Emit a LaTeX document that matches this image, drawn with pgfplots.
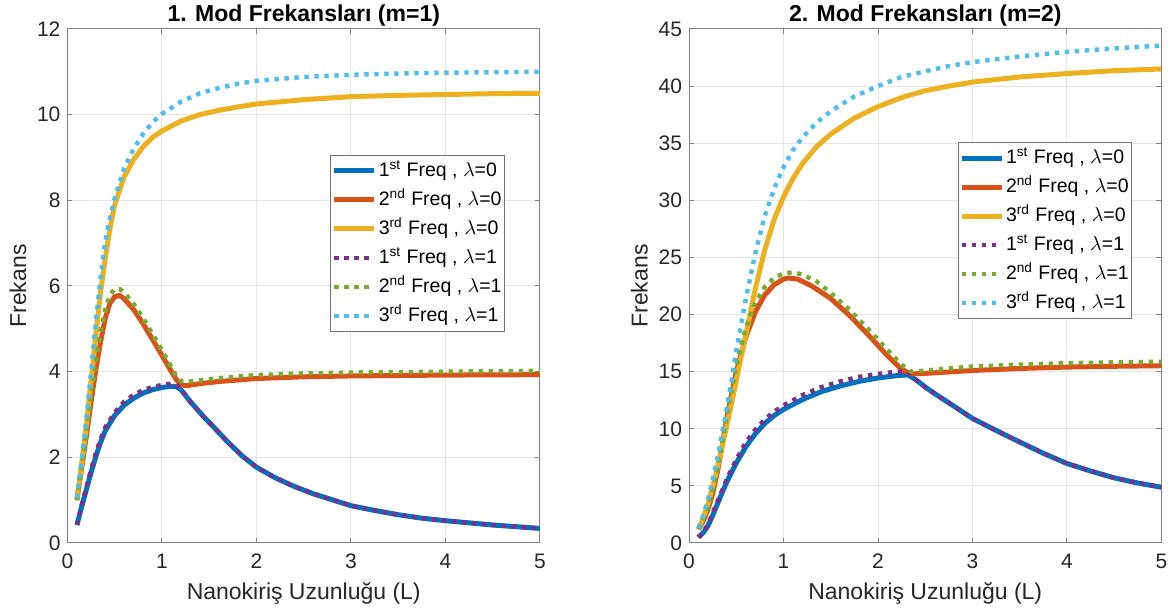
\documentclass[border=0pt]{standalone}
\usepackage{pgfplots}
\pgfplotsset{compat=1.18}
\usepackage{fontspec}
\setmainfont{Liberation Sans}

\definecolor{mblue}{HTML}{0072BD}
\definecolor{morange}{HTML}{D95319}
\definecolor{myellow}{HTML}{EDB120}
\definecolor{mpurple}{HTML}{7E2F8E}
\definecolor{mgreen}{HTML}{77AC30}
\definecolor{mcyan}{HTML}{4DBEEE}

\pgfplotsset{
  matlab/.style={
    scale only axis, width=236.25pt, height=257pt,
    xmin=0, xmax=5, xtick={0,1,2,3,4,5},
    grid=major, major grid style={line width=0.5pt, draw=black!10},
    axis line style={draw=black!50, line width=0.5pt},
    tick style={draw=black!50, line width=0.5pt},
    tick align=inside, major tick length=2.5pt,
    ticklabel style={font=\fontsize{10.5}{12}\selectfont, text=black!85},
    /pgf/number format/assume math mode=true,
    xticklabel shift=2pt,
    xlabel style={font=\fontsize{11.5}{13}\selectfont, text=black!85,
      at={(axis description cs:0.5,-0.099)}, anchor=center},
    ylabel style={font=\fontsize{11.5}{13}\selectfont, text=black!85,
      at={(axis description cs:-0.105,0.5)}, anchor=center},
    every axis title shift=0pt,
    title style={font=\bfseries\fontsize{11.5}{13}\selectfont,
      at={(axis description cs:0.5,1.027)}, anchor=center},
    legend cell align=left,
    legend style={draw=black!55, line width=0.5pt, fill=white,
      font=\fontsize{9.75}{11}\selectfont, inner xsep=0.5pt, inner ysep=1pt,
      nodes={inner sep=1pt, text height=8.5pt, text depth=3pt}, row sep=1pt},
    legend image code/.code={\draw[##1] (0pt,0pt) -- (20pt,0pt);},
  },
  sol/.style={line width=2.5pt, line join=round},
  dot/.style={line width=2.2pt, dash pattern=on 2.2pt off 2.8pt},
}

\begin{document}
\begin{tikzpicture}
\path[use as bounding box] (-33.75pt,-35.5pt) rectangle (552.75pt,271.5pt);

% ---- m = 1 ----
\begin{axis}[matlab, at={(0pt,0pt)}, anchor=south west,
    ymin=0, ymax=12, ytick={0,2,...,12},
    title={1. Mod Frekansları (m=1)},
    xlabel={Nanokiriş Uzunluğu (L)}, ylabel={Frekans},
    legend style={at={(axis description cs:0.926,0.755)}, anchor=north east}]

\addplot[sol, mblue] coordinates {
(0.1,0.42) (0.15,0.85) (0.2,1.25) (0.25,1.65) (0.3,2.02) (0.35,2.35) (0.4,2.62)
(0.5,2.98) (0.6,3.22) (0.7,3.38) (0.8,3.5) (0.9,3.58) (1.0,3.63) (1.1,3.66)
(1.15,3.65) (1.2,3.58) (1.3,3.3) (1.44,2.95) (1.55,2.7) (1.69,2.37) (1.85,2.03)
(2.0,1.77) (2.2,1.52) (2.4,1.32) (2.6,1.15) (2.8,1.01) (3.0,0.87) (3.25,0.76)
(3.5,0.66) (3.75,0.58) (4.0,0.52) (4.5,0.42) (5.0,0.34)};
\addlegendentry{1\textsuperscript{st} Freq , $\lambda$=0}

\addplot[sol, morange] coordinates {
(0.1,1.0) (0.15,1.75) (0.2,2.5) (0.25,3.3) (0.3,4.05) (0.35,4.7) (0.4,5.25)
(0.45,5.6) (0.5,5.75) (0.55,5.78) (0.6,5.7) (0.7,5.45) (0.8,5.12) (0.9,4.75)
(1.0,4.38) (1.1,4.0) (1.15,3.82) (1.2,3.7) (1.25,3.67) (1.4,3.72) (1.6,3.77)
(2.0,3.84) (2.5,3.88) (3.0,3.9) (4.0,3.92) (5.0,3.93)};
\addlegendentry{2\textsuperscript{nd} Freq , $\lambda$=0}

\addplot[sol, myellow] coordinates {
(0.1,1.0) (0.15,1.85) (0.2,2.75) (0.25,3.8) (0.3,4.85) (0.35,5.85) (0.4,6.65)
(0.45,7.35) (0.5,7.9) (0.6,8.55) (0.7,8.95) (0.8,9.25) (0.9,9.47) (1.0,9.62)
(1.2,9.85) (1.4,10.0) (1.6,10.1) (1.8,10.18) (2.0,10.25) (2.5,10.35) (3.0,10.42)
(3.5,10.45) (4.0,10.47) (4.5,10.49) (5.0,10.5)};
\addlegendentry{3\textsuperscript{rd} Freq , $\lambda$=0}

\addplot[dot, mpurple] coordinates {
(0.1,0.42) (0.15,0.88) (0.2,1.3) (0.25,1.72) (0.3,2.1) (0.35,2.42) (0.4,2.7)
(0.5,3.05) (0.6,3.3) (0.7,3.46) (0.8,3.57) (0.9,3.64) (1.0,3.69) (1.1,3.72)
(1.15,3.7) (1.2,3.6) (1.3,3.3) (1.44,2.95) (1.55,2.7) (1.69,2.37) (1.85,2.03)
(2.0,1.77) (2.2,1.52) (2.4,1.32) (2.6,1.15) (2.8,1.01) (3.0,0.87) (3.25,0.76)
(3.5,0.66) (3.75,0.58) (4.0,0.52) (4.5,0.42) (5.0,0.34)};
\addlegendentry{1\textsuperscript{st} Freq , $\lambda$=1}

\addplot[dot, mgreen] coordinates {
(0.1,1.0) (0.15,1.8) (0.2,2.6) (0.25,3.45) (0.3,4.25) (0.35,4.95) (0.4,5.45)
(0.45,5.8) (0.5,5.93) (0.55,5.93) (0.6,5.85) (0.7,5.58) (0.8,5.25) (0.9,4.88)
(1.0,4.5) (1.1,4.1) (1.15,3.9) (1.2,3.78) (1.25,3.76) (1.4,3.8) (1.6,3.85)
(2.0,3.92) (2.5,3.96) (3.0,3.98) (4.0,4.0) (5.0,4.02)};
\addlegendentry{2\textsuperscript{nd} Freq , $\lambda$=1}

\addplot[dot, mcyan] coordinates {
(0.1,1.05) (0.15,1.95) (0.2,2.9) (0.25,4.0) (0.3,5.15) (0.35,6.2) (0.4,7.05)
(0.45,7.6) (0.5,8.05) (0.6,8.75) (0.7,9.2) (0.8,9.55) (0.9,9.82) (1.0,10.02)
(1.2,10.3) (1.4,10.5) (1.6,10.62) (1.8,10.72) (2.0,10.79) (2.5,10.88) (3.0,10.93)
(3.5,10.96) (4.0,10.98) (4.5,10.99) (5.0,11.0)};
\addlegendentry{3\textsuperscript{rd} Freq , $\lambda$=1}
\end{axis}

% ---- m = 2 ----
\begin{axis}[matlab, at={(310.75pt,0pt)}, anchor=south west,
    ymin=0, ymax=45, ytick={0,5,...,45},
    title={2. Mod Frekansları (m=2)},
    xlabel={Nanokiriş Uzunluğu (L)}, ylabel={Frekans},
    legend style={at={(axis description cs:0.938,0.78)}, anchor=north east}]

\addplot[sol, mblue] coordinates {
(0.1,0.5) (0.15,0.9) (0.2,1.5) (0.25,2.4) (0.3,3.4) (0.35,4.4) (0.4,5.35)
(0.5,7.0) (0.6,8.4) (0.7,9.55) (0.8,10.45) (0.9,11.15) (1.0,11.7) (1.2,12.55)
(1.4,13.25) (1.6,13.75) (1.8,14.15) (2.0,14.45) (2.2,14.65) (2.32,14.72)
(2.4,14.3) (2.5,13.65) (2.65,12.8) (2.8,12.0) (3.0,10.9) (3.25,9.85) (3.5,8.84)
(3.75,7.85) (4.0,6.96) (4.25,6.3) (4.5,5.7) (4.75,5.25) (5.0,4.88)};
\addlegendentry{1\textsuperscript{st} Freq , $\lambda$=0}

\addplot[sol, morange] coordinates {
(0.1,1.2) (0.15,1.9) (0.2,2.9) (0.25,4.3) (0.3,6.2) (0.35,8.5) (0.4,10.9)
(0.45,13.0) (0.5,15.0) (0.6,18.0) (0.7,20.2) (0.8,21.7) (0.9,22.6) (1.0,23.1)
(1.05,23.2) (1.15,23.1) (1.3,22.5) (1.5,21.4) (1.7,19.9) (1.9,18.2) (2.1,16.4)
(2.25,15.2) (2.35,14.8) (2.5,14.85) (3.0,15.1) (3.5,15.28) (4.0,15.4)
(4.5,15.47) (5.0,15.52)};
\addlegendentry{2\textsuperscript{nd} Freq , $\lambda$=0}

\addplot[sol, myellow] coordinates {
(0.1,1.2) (0.15,2.2) (0.2,3.4) (0.25,4.9) (0.3,6.6) (0.35,8.4) (0.4,10.3)
(0.45,12.2) (0.5,14.2) (0.6,18.2) (0.7,22.2) (0.8,25.6) (0.9,28.3) (1.0,30.3)
(1.1,31.9) (1.2,33.2) (1.35,34.7) (1.5,35.8) (1.75,37.2) (2.0,38.2) (2.25,39.0)
(2.5,39.6) (2.75,40.0) (3.0,40.35) (3.5,40.8) (4.0,41.1) (4.5,41.35) (5.0,41.5)};
\addlegendentry{3\textsuperscript{rd} Freq , $\lambda$=0}

\addplot[dot, mpurple] coordinates {
(0.1,0.5) (0.15,0.95) (0.2,1.6) (0.3,3.6) (0.4,5.6) (0.5,7.3) (0.6,8.8)
(0.7,9.9) (0.8,10.8) (0.9,11.5) (1.0,12.05) (1.2,12.95) (1.4,13.65) (1.6,14.15)
(1.8,14.55) (2.0,14.8) (2.2,15.0) (2.3,15.0) (2.4,14.3) (2.5,13.65) (2.65,12.8)
(2.8,12.0) (3.0,10.9) (3.25,9.85) (3.5,8.84) (3.75,7.85) (4.0,6.96) (4.25,6.3)
(4.5,5.7) (4.75,5.25) (5.0,4.88)};
\addlegendentry{1\textsuperscript{st} Freq , $\lambda$=1}

\addplot[dot, mgreen] coordinates {
(0.1,1.2) (0.2,3.0) (0.3,6.4) (0.4,11.2) (0.5,15.5) (0.6,18.8) (0.7,21.0)
(0.8,22.4) (0.9,23.2) (1.0,23.6) (1.1,23.7) (1.2,23.5) (1.35,22.9) (1.5,21.9)
(1.7,20.4) (1.9,18.7) (2.1,16.9) (2.25,15.6) (2.35,15.0) (2.5,15.1) (3.0,15.45)
(3.5,15.62) (4.0,15.74) (4.5,15.82) (5.0,15.87)};
\addlegendentry{2\textsuperscript{nd} Freq , $\lambda$=1}

\addplot[dot, mcyan] coordinates {
(0.1,1.3) (0.15,2.4) (0.2,3.8) (0.25,5.5) (0.3,7.4) (0.35,9.6) (0.4,11.8)
(0.45,14.2) (0.5,16.8) (0.6,21.3) (0.7,25.3) (0.8,28.6) (0.9,31.0) (1.0,32.9)
(1.1,34.4) (1.2,35.5) (1.35,36.8) (1.5,37.8) (1.75,39.1) (2.0,40.0) (2.25,40.8)
(2.5,41.3) (2.75,41.75) (3.0,42.1) (3.5,42.6) (4.0,43.0) (4.5,43.3) (5.0,43.55)};
\addlegendentry{3\textsuperscript{rd} Freq , $\lambda$=1}
\end{axis}
\end{tikzpicture}
\end{document}
